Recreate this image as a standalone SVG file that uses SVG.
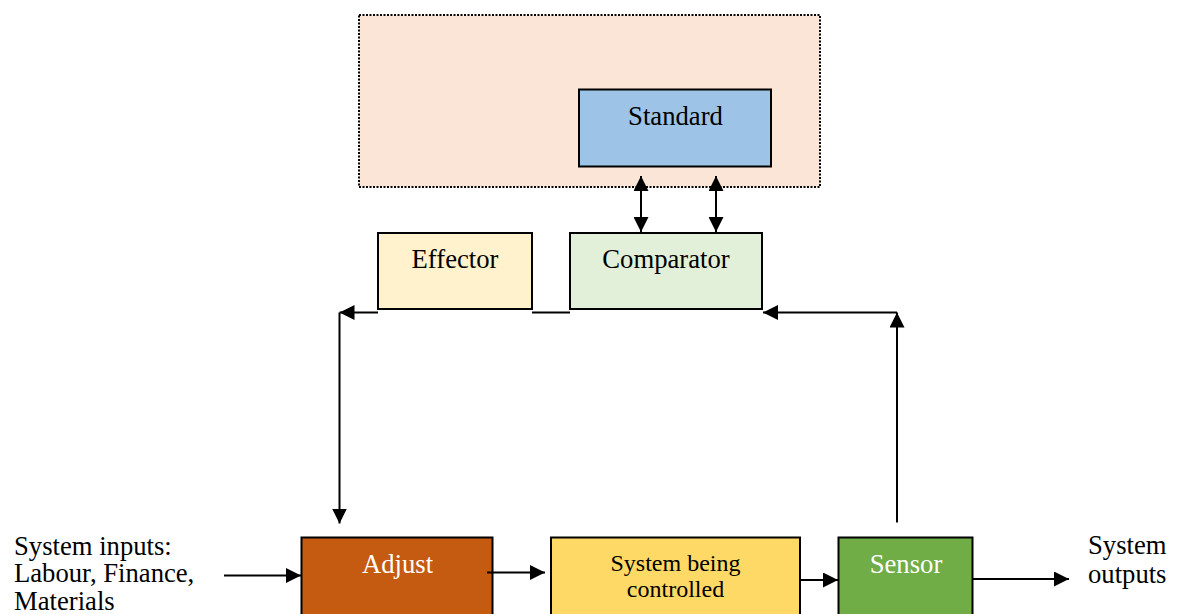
<svg xmlns="http://www.w3.org/2000/svg" width="1183" height="614" viewBox="0 0 1183 614">
  <style>
    .box { stroke: #000; stroke-width: 2; }
    .lbl { font-family: "Liberation Serif", "Times New Roman", serif; font-size: 26.67px; fill: #000; }
    .mid { text-anchor: middle; }
    .light { fill: #fff; }
    .small { font-size: 24px; }
    .wire { fill: none; stroke: #000; stroke-width: 2; }
  </style>
  <defs>
    <marker id="arrow" viewBox="0 0 15 15" refX="15" refY="7.5" markerWidth="15" markerHeight="15" markerUnits="userSpaceOnUse" orient="auto-start-reverse">
      <path d="M0,0 L15,7.5 L0,15 z" fill="#000"/>
    </marker>
  </defs>

  <rect width="1183" height="614" fill="#fff"/>

  <!-- management / control level boundary -->
  <g id="control-area">
    <rect x="359" y="15" width="461" height="172" fill="#FBE5D6" stroke="#000" stroke-width="2" stroke-dasharray="2 1.5"/>
  </g>

  <g id="standard">
    <rect class="box" x="579" y="89.5" width="192" height="77" fill="#9DC3E6"/>
    <text class="lbl mid" x="675.5" y="125">Standard</text>
  </g>

  <g id="effector">
    <rect class="box" x="378" y="233" width="154" height="76" fill="#FFF2CC"/>
    <text class="lbl mid" x="455" y="268">Effector</text>
  </g>

  <g id="comparator">
    <rect class="box" x="570" y="233" width="192" height="76" fill="#E2F0D9"/>
    <text class="lbl mid" x="666" y="268">Comparator</text>
  </g>

  <g id="adjust">
    <rect class="box" x="301.5" y="537.5" width="191" height="80" fill="#C55A11"/>
    <text class="lbl mid light" x="397.5" y="573">Adjust</text>
  </g>

  <g id="system">
    <rect class="box" x="551" y="537.5" width="249" height="80" fill="#FFD966"/>
    <text class="lbl mid small" x="675.5" y="571">System being</text>
    <text class="lbl mid small" x="675.5" y="597">controlled</text>
  </g>

  <g id="sensor">
    <rect class="box" x="838.5" y="537.5" width="134" height="80" fill="#70AD47"/>
    <text class="lbl mid light" x="906" y="573">Sensor</text>
  </g>

  <g id="inputs">
    <text class="lbl" x="14" y="554.5">System inputs:</text>
    <text class="lbl" x="14" y="582">Labour, Finance,</text>
    <text class="lbl" x="14" y="609.5">Materials</text>
  </g>

  <g id="outputs">
    <text class="lbl" x="1088" y="554">System</text>
    <text class="lbl" x="1088" y="583">outputs</text>
  </g>

  <g id="connectors">
    <!-- standard <-> comparator -->
    <path class="wire" d="M641,176 L641,232" marker-start="url(#arrow)" marker-end="url(#arrow)"/>
    <path class="wire" d="M716,176 L716,232" marker-start="url(#arrow)" marker-end="url(#arrow)"/>
    <!-- comparator to effector link -->
    <path class="wire" d="M532,312.5 L570,312.5"/>
    <!-- effector feedback down to adjust -->
    <path class="wire" d="M378,312.5 L339.5,312.5" marker-end="url(#arrow)"/>
    <path class="wire" d="M339.5,312.5 L339.5,523.5" marker-end="url(#arrow)"/>
    <!-- sensor feedback up to comparator -->
    <path class="wire" d="M897,522.5 L897,312.5" marker-end="url(#arrow)"/>
    <path class="wire" d="M897,312.5 L763,312.5" marker-end="url(#arrow)"/>
    <!-- main flow -->
    <path class="wire" d="M224,575.5 L301,575.5" marker-end="url(#arrow)"/>
    <path class="wire" d="M487,572.5 L545,572.5" marker-end="url(#arrow)"/>
    <path class="wire" d="M800,580 L838,580" marker-end="url(#arrow)"/>
    <path class="wire" d="M973,579 L1069,579" marker-end="url(#arrow)"/>
  </g>
</svg>
